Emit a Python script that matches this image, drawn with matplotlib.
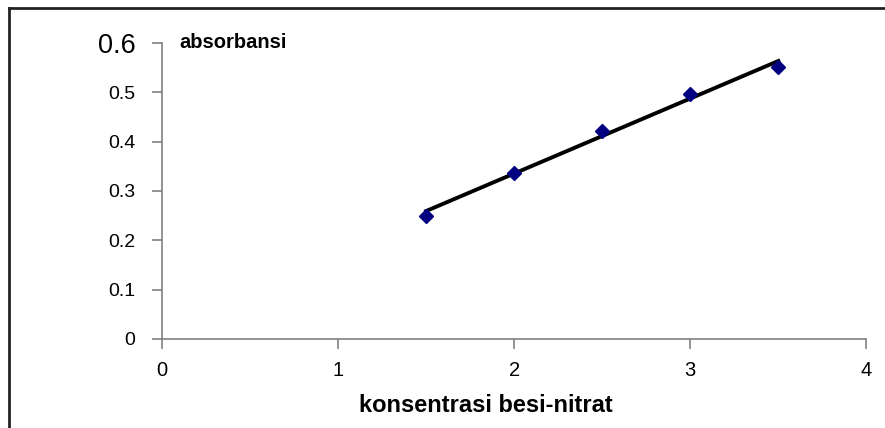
import numpy as np
import matplotlib.pyplot as plt
from matplotlib.lines import Line2D

plt.rcParams['font.family'] = ['Liberation Sans', 'DejaVu Sans']

# data
konsentrasi = [1.5, 2.0, 2.5, 3.0, 3.5]
absorbansi = [0.25, 0.337, 0.422, 0.497, 0.55]
x_ticks = [0, 1, 2, 3, 4]
y_ticks = [0, 0.1, 0.2, 0.3, 0.4, 0.5, 0.6]

fig = plt.figure(figsize=(8.85, 4.28), dpi=100)
ax = fig.add_axes([0.183, 0.208, 0.796, 0.692])

# linear trend line
slope, intercept = np.polyfit(konsentrasi, absorbansi, 1)
xs = np.array([konsentrasi[0], konsentrasi[-1]])
ax.plot(xs, slope * xs + intercept, color='black', lw=2.8, zorder=2)
ax.plot(konsentrasi, absorbansi, 'D', color='#000080', markersize=7.5, zorder=3)

ax.set_xlim(0, 4)
ax.set_ylim(0, 0.6)
ax.set_xticks(x_ticks)
ax.set_yticks(y_ticks)
ax.set_xticklabels([str(v) for v in x_ticks], fontsize=14.5)
ax.set_yticklabels(['0'] + [f'{v:.1f}' for v in y_ticks[1:]], fontsize=14)
ax.get_yticklabels()[-1].set_fontsize(19.5)

for side in ['top', 'right']:
    ax.spines[side].set_visible(False)
for side in ['left', 'bottom']:
    ax.spines[side].set_color('#808080')
    ax.spines[side].set_linewidth(1.2)
ax.tick_params(direction='out', length=7, width=1.2, color='#808080')
ax.tick_params(axis='y', pad=12)
ax.tick_params(axis='x', pad=9)

ax.text(0.025, 0.6, 'absorbansi', fontsize=14.5, fontweight='bold',
        ha='left', va='center', transform=ax.get_yaxis_transform())
fig.text(0.549, 0.053, 'konsentrasi besi-nitrat', fontsize=17,
         fontweight='bold', ha='center', va='center')

# outer frame (top and left)
fig.add_artist(Line2D([0.01, 1.0], [0.981, 0.981], color='#222222', lw=2,
                      transform=fig.transFigure))
fig.add_artist(Line2D([0.0105, 0.0105], [0.0, 0.981], color='#222222', lw=2,
                      transform=fig.transFigure))

plt.savefig('out.png', dpi=100)
